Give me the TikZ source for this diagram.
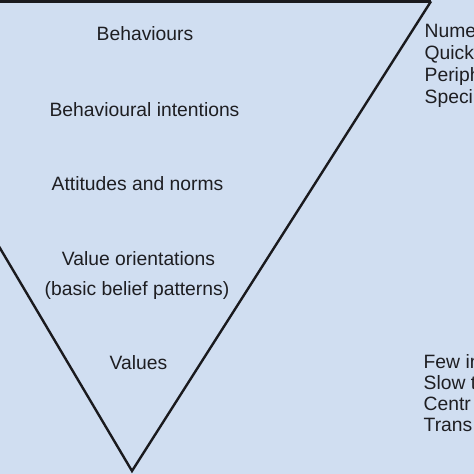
\documentclass[tikz,border=0pt]{standalone}
\usepackage{fontspec}
\setmainfont{Liberation Sans}
\definecolor{bgblue}{RGB}{208,222,241}
\definecolor{inkline}{RGB}{26,26,30}
\definecolor{inktext}{RGB}{30,30,34}
\begin{document}
\begin{tikzpicture}[x=1pt,y=-1pt,
  lbl/.style={inner sep=0pt,anchor=base,text=inktext,font=\fontsize{19.3}{23}\selectfont},
  side/.style={inner sep=0pt,anchor=base west,text=inktext,font=\fontsize{19.3}{23}\selectfont},
  vline/.style={draw=inkline,line width=2.4pt,line join=miter},
  topline/.style={draw=inkline,line width=3pt}]
\useasboundingbox (0,0) rectangle (474,474);
\clip (0,0) rectangle (474,474);
\fill[bgblue] (0,0) rectangle (474,474);
\coordinate (tl) at (-5,1.3);
\coordinate (tr) at (431,1.3);
\coordinate (apex) at (132,471);
\coordinate (lft) at (-5,239.7);
\draw[topline] (tl) -- (tr);
\draw[vline] (tr) -- (apex) -- (lft);
\node[lbl] (beh) at (145,40) {Behaviours};
\node[lbl] (bint) at (144.5,116) {Behavioural intentions};
\node[lbl] (att) at (137.5,190.5) {Attitudes and norms};
\node[lbl] (vo) at (138.5,265.5) {Value orientations};
\node[lbl] (bbp) at (137,295) {(basic belief patterns)};
\node[lbl] (val) at (138.5,369) {Values};
\node[side] (r1) at (424.5,37.5) {Nume};
\node[side] (r2) at (424.5,59.5) {Quick};
\node[side] (r3) at (424.5,81.5) {Periph};
\node[side] (r4) at (424.5,103.5) {Speci};
\node[side] (r5) at (423.5,368.5) {Few in};
\node[side] (r6) at (423.5,389.5) {Slow t};
\node[side] (r7) at (423.5,410.5) {Centr};
\node[side] (r8) at (423.5,431.5) {Trans};
\end{tikzpicture}
\end{document}
